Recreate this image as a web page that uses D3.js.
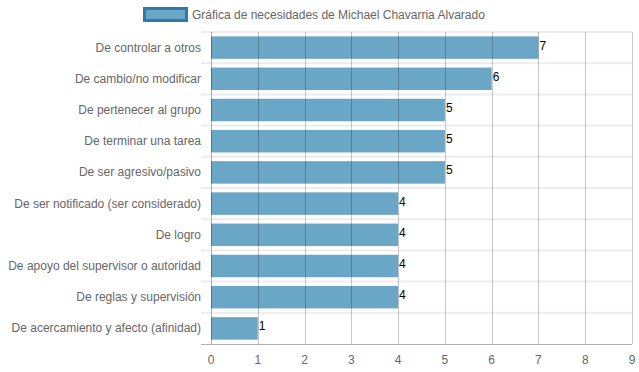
<!DOCTYPE html>
<html>
<head>
<meta charset="utf-8">
<style>
  body { margin: 0; background: #fff; }
  text { font-family: "Liberation Sans", Arial, sans-serif; }
</style>
</head>
<body>
<div id="chart"></div>
<script src="https://cdn.jsdelivr.net/npm/d3@7"></script>
<script>
  var categories = [
    "De controlar a otros",
    "De cambio/no modificar",
    "De pertenecer al grupo",
    "De terminar una tarea",
    "De ser agresivo/pasivo",
    "De ser notificado (ser considerado)",
    "De logro",
    "De apoyo del supervisor o autoridad",
    "De reglas y supervisión",
    "De acercamiento y afecto (afinidad)"
  ];
  var values = [7, 6, 5, 5, 5, 4, 4, 4, 4, 1];
  var xTicks = [0, 1, 2, 3, 4, 5, 6, 7, 8, 9];
  var seriesName = "Gráfica de necesidades de Michael Chavarria Alvarado";

  var width = 639, height = 372;
  var plotLeft = 211, plotRight = 632, plotTop = 32, plotBottom = 344;

  var svg = d3.select("#chart").append("svg")
    .attr("width", width)
    .attr("height", height);

  var x = d3.scaleLinear().domain([0, 9]).range([plotLeft, plotRight]);
  var y = d3.scaleBand().domain(categories).range([plotTop, plotBottom]);

  // horizontal grid lines between categories
  var bounds = categories.map(function(c) { return y(c); });
  svg.selectAll(".hgrid").data(bounds).enter().append("line")
    .attr("x1", plotLeft - 10).attr("x2", plotRight)
    .attr("y1", function(d) { return d; }).attr("y2", function(d) { return d; })
    .attr("stroke", "rgba(0,0,0,0.07)")
    .attr("stroke-width", 2);

  // bars
  var bh = y.bandwidth() * 0.72;
  svg.selectAll(".bar").data(values).enter().append("rect")
    .attr("x", x(0))
    .attr("y", function(d, i) { return y(categories[i]) + (y.bandwidth() - bh) / 2; })
    .attr("width", function(d) { return x(d) - x(0); })
    .attr("height", bh)
    .attr("fill", "#6aa6c5");

  // vertical grid lines
  svg.selectAll(".vgrid").data(xTicks).enter().append("line")
    .attr("x1", function(d) { return Math.round(x(d)) + 0.5; })
    .attr("x2", function(d) { return Math.round(x(d)) + 0.5; })
    .attr("y1", plotTop).attr("y2", plotBottom)
    .attr("stroke", function(d) { return d == 0 ? "rgba(0,0,0,0.3)" : "rgba(0,0,0,0.22)"; })
    .attr("stroke-width", 1);

  // axis line
  svg.append("line")
    .attr("x1", plotLeft - 10).attr("x2", plotRight)
    .attr("y1", plotBottom + 0.5).attr("y2", plotBottom + 0.5)
    .attr("stroke", "rgba(0,0,0,0.3)");

  // x tick labels
  svg.selectAll(".xt").data(xTicks).enter().append("text")
    .attr("x", function(d) { return x(d); })
    .attr("y", 364)
    .attr("text-anchor", "middle")
    .attr("font-size", "12px")
    .attr("fill", "#666")
    .text(function(d) { return d; });

  // category labels
  svg.selectAll(".yt").data(categories).enter().append("text")
    .attr("x", 201)
    .attr("y", function(d) { return y(d) + y.bandwidth() / 2 + 4; })
    .attr("text-anchor", "end")
    .attr("font-size", "12px")
    .attr("fill", "#666")
    .text(function(d) { return d; });

  // value labels
  svg.selectAll(".val").data(values).enter().append("text")
    .attr("x", function(d) { return x(d) + 1; })
    .attr("y", function(d, i) { return y(categories[i]) + y.bandwidth() / 2 + 2; })
    .attr("font-size", "12px")
    .attr("fill", "#000")
    .text(function(d) { return d; });

  // legend
  svg.append("rect")
    .attr("x", 144.5).attr("y", 8.5)
    .attr("width", 42).attr("height", 12)
    .attr("fill", "#6aa6c5")
    .attr("stroke", "#2f7aa6")
    .attr("stroke-width", 3);
  svg.append("text")
    .attr("x", 192).attr("y", 19)
    .attr("font-size", "12px")
    .attr("fill", "#666")
    .text(seriesName);
</script>
</body>
</html>
